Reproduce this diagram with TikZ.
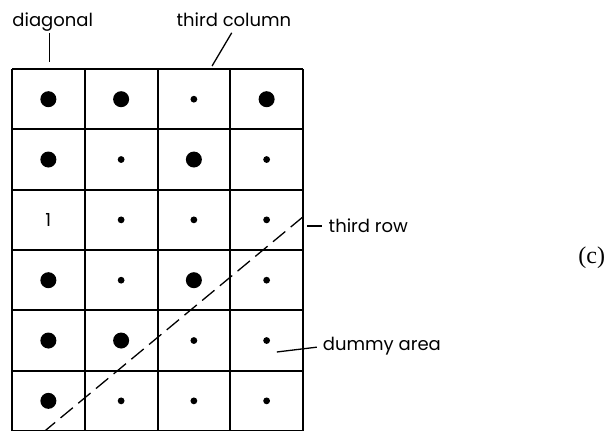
\documentclass[tikz,border=0pt]{standalone}
\usepackage{fontspec}
\setmainfont{Liberation Serif}
\newfontfamily\labelfont{Poppins}
\usepackage{tikz}

\begin{document}
\begin{tikzpicture}[x=36.375pt,y=30.167pt,line width=1pt,
  big/.style={circle,fill,inner sep=0pt,minimum size=8pt},
  sm/.style={circle,fill,inner sep=0pt,minimum size=3.4pt},
  lbl/.style={font=\labelfont\fontsize{9}{11}\selectfont,inner sep=0pt},
  lead/.style={line width=.65pt}]
\useasboundingbox (-0.165,0.017) rectangle (8.165,7.144);
\draw[step=1] (0,0) grid (4,6);

\node[big] (a1) at (0.5,5.5) {};
\node[big] (a2) at (1.5,5.5) {};
\node[sm] (a3) at (2.5,5.5) {};
\node[big] (a4) at (3.5,5.5) {};
\node[big] (b1) at (0.5,4.5) {};
\node[sm] (b2) at (1.5,4.5) {};
\node[big] (b3) at (2.5,4.5) {};
\node[sm] (b4) at (3.5,4.5) {};
\node[lbl] (c1) at (0.5,3.5) {1};
\node[sm] (c2) at (1.5,3.5) {};
\node[sm] (c3) at (2.5,3.5) {};
\node[sm] (c4) at (3.5,3.5) {};
\node[big] (d1) at (0.5,2.5) {};
\node[sm] (d2) at (1.5,2.5) {};
\node[big] (d3) at (2.5,2.5) {};
\node[sm] (d4) at (3.5,2.5) {};
\node[big] (e1) at (0.5,1.5) {};
\node[big] (e2) at (1.5,1.5) {};
\node[sm] (e3) at (2.5,1.5) {};
\node[sm] (e4) at (3.5,1.5) {};
\node[big] (f1) at (0.5,0.5) {};
\node[sm] (f2) at (1.5,0.5) {};
\node[sm] (f3) at (2.5,0.5) {};
\node[sm] (f4) at (3.5,0.5) {};

\coordinate (dtop) at (4,3.55);
\coordinate (dbot) at (0.45,0);
\draw[lead,dash pattern=on 8pt off 3.5pt] (dtop)--(dbot);

\node[lbl,anchor=base] (diag) at (0.56,6.70) {diagonal};
\coordinate (diagA) at (0.52,6.60);
\coordinate (diagB) at (0.52,6.12);
\draw[lead] (diagA)--(diagB);

\node[lbl,anchor=base] (col) at (3.05,6.70) {third column};
\coordinate (colA) at (3.02,6.60);
\coordinate (colB) at (2.75,6.05);
\draw[lead] (colA)--(colB);

\node[lbl,anchor=base west] (row) at (4.34,3.29) {third row};
\coordinate (rowA) at (4.055,3.40);
\coordinate (rowB) at (4.26,3.40);
\draw[lead] (rowA)--(rowB);

\node[lbl,anchor=base west] (dummy) at (4.26,1.33) {dummy area};
\coordinate (dumA) at (3.64,1.31);
\coordinate (dumB) at (4.19,1.39);
\draw[lead] (dumA)--(dumB);

\node[anchor=base east,inner sep=0pt,font=\fontsize{12}{14}\selectfont] (tag) at (8.165,2.78) {(c)};
\end{tikzpicture}
\end{document}
